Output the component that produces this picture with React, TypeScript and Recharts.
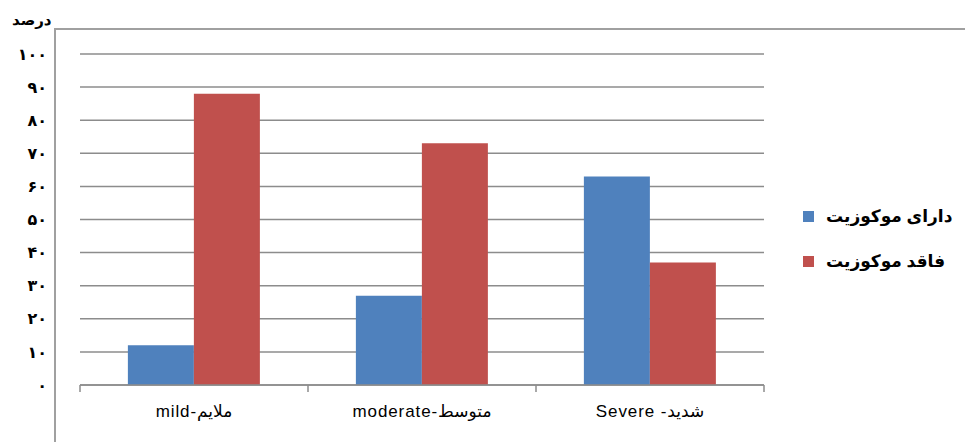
import { BarChart, Bar, XAxis, YAxis, CartesianGrid, Legend } from 'recharts';

const categories = ['mild-ملایم', 'moderate-متوسط', 'Severe -شدید'];
const withMucositis = [12, 27, 63];
const withoutMucositis = [88, 73, 37];
const seriesNames = ['دارای موکوزیت', 'فاقد موکوزیت'];
const yTicks = [0, 10, 20, 30, 40, 50, 60, 70, 80, 90, 100];

const COLORS = ['#4F81BD', '#C0504D'];
const FONT = '"Liberation Sans", "DejaVu Sans", Arial, sans-serif';
const AXIS = '#8c8c8c';
const LABEL_GAP = 20;

const data = categories.map((name, i) => ({
  name,
  a: withMucositis[i],
  b: withoutMucositis[i],
}));

const toPersian = (n: number) =>
  String(n).replace(/\d/g, d => '۰۱۲۳۴۵۶۷۸۹'[Number(d)]);

// category label + tick marks on the band edges (Excel style)
const CategoryTick = (props: any) => {
  const { x, y, payload, index, visibleTicksCount } = props;
  const half = payload?.offset || 0;
  const axisY = y - LABEL_GAP;
  const isLast = index === (visibleTicksCount ?? categories.length) - 1;
  return (
    <g>
      {half > 0 && <line x1={x - half} x2={x - half} y1={axisY} y2={axisY + 7} stroke={AXIS} strokeWidth={1.5} />}
      {half > 0 && isLast && <line x1={x + half} x2={x + half} y1={axisY} y2={axisY + 7} stroke={AXIS} strokeWidth={1.5} />}
      <text x={x} y={y} dy="0.71em" textAnchor="middle" fill="#000" fontSize={17} letterSpacing={0.9} fontFamily={FONT}>
        {payload.value}
      </text>
    </g>
  );
};

const LegendContent = () => (
  <div style={{ fontFamily: FONT }}>
    {seriesNames.map((name, i) => (
      <div key={name} style={{ display: 'flex', alignItems: 'center', height: 22, marginBottom: i === 0 ? 23 : 0 }}>
        <span style={{ width: 11, height: 11, background: COLORS[i], display: 'inline-block', marginRight: 12 }} />
        <span style={{ fontSize: 17, fontWeight: 'bold', color: '#000', direction: 'rtl' }}>{name}</span>
      </div>
    ))}
  </div>
);

export default function App() {
  return (
    <div style={{ position: 'absolute', left: 0, top: 0, width: 965, height: 442, background: '#fff' }}>
      <div
        style={{
          position: 'absolute',
          left: 54,
          top: 28,
          width: 911,
          height: 414,
          borderLeft: '2px solid #a0a0a0',
          borderTop: '2px solid #a0a0a0',
          boxSizing: 'border-box',
        }}
      />
      <div
        style={{
          position: 'absolute',
          left: 12,
          top: 11,
          fontFamily: FONT,
          fontSize: 15,
          fontWeight: 'bold',
          direction: 'rtl',
        }}
      >
        درصد
      </div>
      <BarChart
        width={965}
        height={442}
        data={data}
        margin={{ top: 54, right: 201, bottom: 27, left: 19 }}
        barCategoryGap="21%"
        barGap={0}
        style={{ position: 'absolute', left: 0, top: 0 }}
      >
        <CartesianGrid vertical={false} stroke={AXIS} strokeWidth={1.5} />
        <XAxis
          dataKey="name"
          axisLine={{ stroke: AXIS, strokeWidth: 1.5 }}
          tickLine={false}
          tickSize={0}
          tickMargin={LABEL_GAP}
          height={30}
          interval={0}
          tick={<CategoryTick />}
        />
        <YAxis
          domain={[0, 100]}
          ticks={yTicks}
          width={61}
          axisLine={false}
          tickLine={false}
          tickSize={0}
          tickMargin={33}
          tickFormatter={toPersian}
          tick={{ fill: '#000', fontSize: 16, fontWeight: 'bold', fontFamily: FONT }}
        />
        <Legend
          layout="vertical"
          align="center"
          verticalAlign="middle"
          content={<LegendContent />}
          wrapperStyle={{ position: 'absolute', left: 803, top: 205, width: 160 }}
        />
        <Bar dataKey="a" name={seriesNames[0]} fill={COLORS[0]} isAnimationActive={false} />
        <Bar dataKey="b" name={seriesNames[1]} fill={COLORS[1]} isAnimationActive={false} />
      </BarChart>
    </div>
  );
}
